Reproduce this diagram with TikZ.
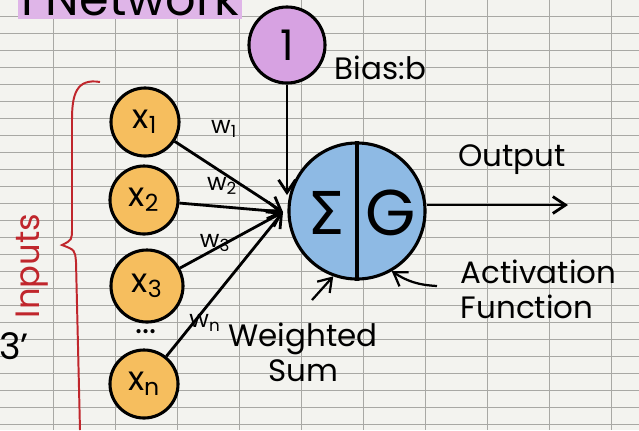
\documentclass[tikz,border=0pt]{standalone}
\usepackage{fontspec}
\setmainfont{Poppins}
\newfontfamily\greekfont{DejaVu Sans}
\usetikzlibrary{positioning,arrows.meta,calc}

\definecolor{paper}{HTML}{F3F3EF}
\definecolor{gridline}{HTML}{A8A8A4}
\definecolor{inorange}{HTML}{F6BE5E}
\definecolor{biasviolet}{HTML}{D7A2E2}
\definecolor{sumblue}{HTML}{8EBAE4}
\definecolor{penred}{HTML}{C0262C}

\begin{document}
\begin{tikzpicture}[
    x=0.025cm, y=-0.025cm,
    inputnode/.style={circle, draw, line width=2.2pt, fill=inorange, minimum size=1.7cm, inner sep=0pt, font=\fontsize{24}{26}\selectfont},
    biasnode/.style={circle, draw, line width=2.2pt, fill=biasviolet, minimum size=1.9cm, inner sep=0pt, font=\fontsize{30}{32}\selectfont},
    neuron/.style={circle, draw, line width=2.2pt, fill=sumblue, minimum size=3.4cm, inner sep=0pt},
    arrow/.style={-{Straight Barb[length=9pt, width=12pt]}, line width=2pt},
    weight/.style={font=\fontsize{17}{19}\selectfont},
    label/.style={font=\fontsize{22}{25}\selectfont, align=left}
]

% Paper and grid
\path[use as bounding box, fill=paper] (0,0) rectangle (639,430);
\clip (0,0) rectangle (639,430);
\foreach \y in {16,33,...,430}
    \draw[gridline, line width=0.5pt] (0,\y) -- (639,\y);
\foreach \x in {53,115,...,639}
    \draw[gridline, line width=0.6pt] (\x,0) -- (\x,430);

% Heading, cut off at the top
\node[fill=biasviolet!80, font=\fontsize{34}{36}\selectfont, inner sep=2pt] (title) at (130,-2) {l Network};
\node[font=\fontsize{26}{28}\selectfont] (three) at (14,346) {3'};

% Bias
\node[biasnode] (bias) at (287,45) {1};
\node[label, anchor=west] (biaslabel) at (330,68) {Bias:b};

% Inputs
\node[inputnode] (x1) at (145,122) {x\textsubscript{1}};
\node[inputnode] (x2) at (144,200) {x\textsubscript{2}};
\node[inputnode, minimum size=1.8cm] (x3) at (147,286) {x\textsubscript{3}};
\node[font=\fontsize{24}{26}\selectfont] (dots) at (146,332) {...};
\node[inputnode] (xn) at (144,384) {x\textsubscript{n}};

% Neuron
\node[neuron] (neuron) at (357,211) {};
\draw[line width=2.2pt] (neuron.north) -- (neuron.south);
\node[font=\fontsize{42}{44}\greekfont\selectfont] (sigma) at (326,213) {Σ};
\node[font=\fontsize{46}{48}\selectfont] (act) at (391,213) {G};

% Weighted connections
\coordinate (sumin) at (283,212);
\draw[arrow] (x1) -- (sumin);
\draw[arrow] (x2) -- (sumin);
\draw[arrow] (x3) -- (sumin);
\draw[arrow] (xn) -- (sumin);
\node[weight] (w1) at (224,129) {w\textsubscript{1}};
\node[weight] (w2) at (222,186) {w\textsubscript{2}};
\node[weight] (w3) at (215,243) {w\textsubscript{3}};
\node[weight] (wn) at (205,323) {w\textsubscript{n}};

% Bias connection
\coordinate (biasend) at (290,195);
\draw[arrow] (bias.south) -- (bias.south |- biasend);

% Output
\coordinate (outend) at (568,205);
\draw[arrow] (neuron.east |- outend) -- (outend);
\node[label] (outlabel) at (512,160) {Output};

% Annotations under the neuron
\coordinate (wsumtail) at (312,300);
\draw[arrow, line width=1.6pt] (wsumtail) -- (neuron.250);
\node[label, align=center] (wsum) at (303,352) {Weighted\\Sum};
\coordinate (acttail) at (437,286);
\draw[arrow, line width=1.6pt] (acttail) to[bend left=15] (neuron.300);
\node[label, anchor=north west] (actlabel) at (456,255) {Activation\\Function};

% Inputs brace
\draw[penred, line width=1.4pt] (100,82) .. controls (76,78) and (72,95) .. (72,120)
    -- (72,228) .. controls (72,240) .. (62,245) .. controls (75,250) .. (76,262) -- (80,430);
\node[penred, rotate=90, font=\fontsize{24}{26}\selectfont] (inputs) at (32,266) {Inputs};

\end{tikzpicture}
\end{document}
